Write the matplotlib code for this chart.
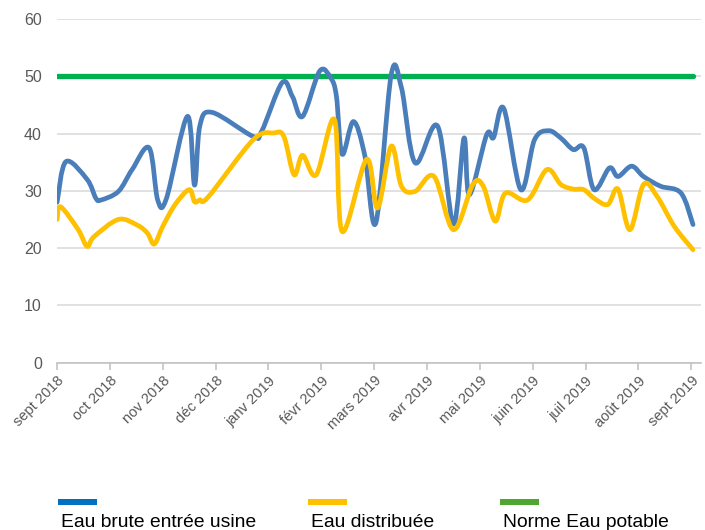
import calendar
import numpy as np
import matplotlib
matplotlib.use("Agg")
import matplotlib.pyplot as plt
from matplotlib.path import Path
from matplotlib.patches import PathPatch, Rectangle

# axe des mois
mois = ["sept 2018", "oct 2018", "nov 2018", "déc 2018", "janv 2019", "févr 2019",
        "mars 2019", "avr 2019", "mai 2019", "juin 2019", "juil 2019", "août 2019",
        "sept 2019"]

# Eau brute entrée usine
dates_brute = ["2018-09-01", "2018-09-06", "2018-09-18", "2018-09-23", "2018-09-26",
               "2018-10-06", "2018-10-14", "2018-10-24", "2018-10-29",
               "2018-11-03", "2018-11-15", "2018-11-19",
               "2018-11-22", "2018-11-29", "2018-12-23", "2018-12-28", "2019-01-09",
               "2019-01-15", "2019-01-21", "2019-01-31", "2019-02-06", "2019-02-09",
               "2019-02-12", "2019-02-18", "2019-02-24", "2019-03-02", "2019-03-11",
               "2019-03-17", "2019-03-25", "2019-04-07", "2019-04-16", "2019-04-22",
               "2019-04-25", "2019-05-05", "2019-05-09", "2019-05-15", "2019-05-25",
               "2019-06-02", "2019-06-10", "2019-06-17", "2019-06-24", "2019-06-30",
               "2019-07-06", "2019-07-15", "2019-07-20", "2019-07-28", "2019-08-04",
               "2019-08-14", "2019-08-26", "2019-09-02"]
brute = [28.0, 35.1, 32.0, 28.7, 28.4,
         29.9, 33.7, 37.5, 28.4,
         28.6, 43.0, 31.0,
         41.3, 43.7, 39.5, 40.4, 48.9,
         46.5, 43.0, 50.9, 49.7, 46.5,
         36.4, 42.1, 36.2, 24.4, 50.3,
         48.0, 34.9, 41.3, 24.2, 39.2,
         29.3, 39.8, 39.3, 44.4, 30.2,
         38.9, 40.5, 39.2, 37.2, 37.5,
         30.2, 34.0, 32.5, 34.3, 32.5,
         30.8, 29.6, 24.1]

# Eau distribuée
dates_distrib = ["2018-09-01", "2018-09-03", "2018-09-13", "2018-09-18", "2018-09-22",
                 "2018-10-06", "2018-10-17", "2018-10-23", "2018-10-27", "2018-11-01",
                 "2018-11-08", "2018-11-16", "2018-11-19", "2018-11-22",
                 "2018-11-27", "2018-12-23", "2019-01-04", "2019-01-10", "2019-01-16",
                 "2019-01-21", "2019-01-29", "2019-02-08", "2019-02-12", "2019-02-25",
                 "2019-03-03", "2019-03-11", "2019-03-17", "2019-03-25", "2019-04-05",
                 "2019-04-16", "2019-04-27", "2019-05-03", "2019-05-10", "2019-05-16",
                 "2019-05-29", "2019-06-09", "2019-06-17", "2019-06-24", "2019-06-30",
                 "2019-07-06", "2019-07-14", "2019-07-20", "2019-07-27", "2019-08-04",
                 "2019-08-12", "2019-08-22", "2019-09-02"]
distrib = [25.0, 27.2, 23.2, 20.3, 22.0,
           25.0, 24.0, 22.6, 20.7, 23.8,
           27.6, 30.2, 28.1, 28.4,
           29.0, 38.9, 40.1, 39.5, 32.8,
           36.2, 32.8, 42.4, 22.9, 35.5,
           27.0, 37.8, 30.8, 29.9, 32.5,
           23.2, 31.1, 30.8, 24.7, 29.6,
           28.4, 33.7, 31.1, 30.3, 30.2,
           28.7, 27.6, 30.3, 23.2, 31.1,
           29.0, 23.8, 19.7]

# Norme Eau potable
norme = 50

noms = ["Eau brute entrée usine", "Eau distribuée", "Norme Eau potable"]


def position(d):
    # date -> position en mois depuis sept 2018
    a, m, j = map(int, d.split("-"))
    return (a - 2018) * 12 + m - 9 + (j - 1) / calendar.monthrange(a, m)[1]


def courbe_lissee(ax, xs, ys, **kw):
    # courbe lissée façon Excel (Catmull-Rom -> Bézier)
    pts = np.column_stack([xs, ys])
    n = len(pts)
    verts = [pts[0]]
    codes = [Path.MOVETO]
    for i in range(n - 1):
        p0 = pts[max(i - 1, 0)]
        p1 = pts[i]
        p2 = pts[i + 1]
        p3 = pts[min(i + 2, n - 1)]
        verts += [p1 + (p2 - p0) / 6, p2 - (p3 - p1) / 6, p2]
        codes += [Path.CURVE4] * 3
    ax.add_patch(PathPatch(Path(verts, codes), fill=False, **kw))


plt.rcParams["font.family"] = ["Liberation Sans", "DejaVu Sans"]

fig = plt.figure(figsize=(7.05, 5.3), dpi=100)
ax = fig.add_axes([0.081, 0.316, 0.913, 0.648])

x_brute = [position(d) for d in dates_brute]
x_distrib = [position(d) for d in dates_distrib]

ax.plot([x_brute[0], x_brute[-1]], [norme, norme], color="#00B050", lw=3.8,
        solid_capstyle="round", zorder=3)
courbe_lissee(ax, x_brute, brute, edgecolor="#4A7EBB", lw=3.4,
              capstyle="round", joinstyle="round", zorder=4)
courbe_lissee(ax, x_distrib, distrib, edgecolor="#FFC000", lw=3.4,
              capstyle="round", joinstyle="round", zorder=5)

ax.set_xlim(0, 12.18)
ax.set_ylim(0, 60)
ax.set_yticks(range(0, 61, 10))
ax.grid(axis="y", color="#D9D9D9", lw=1.1)
ax.set_axisbelow(True)
for s in ["top", "right", "left"]:
    ax.spines[s].set_visible(False)
ax.spines["bottom"].set_color("#BFBFBF")
ax.spines["bottom"].set_linewidth(1.1)

ax.set_xticks(range(len(mois)))
ax.set_xticklabels(mois, rotation=45, ha="right", rotation_mode="anchor")
ax.tick_params(axis="x", colors="#BFBFBF", length=5, width=1.1, pad=3,
               labelcolor="#595959", labelsize=10.5)
ax.tick_params(axis="y", length=0, pad=11, labelcolor="#595959", labelsize=11.5)

# légende en bas
couleurs_leg = ["#0070C0", "#FFC000", "#4EA72E"]
x_leg = [58, 308, 500]
for nom, c, x0 in zip(noms, couleurs_leg, x_leg):
    fig.add_artist(Rectangle((x0 / 705, 1 - 505 / 530), 39 / 705, 6 / 530,
                             transform=fig.transFigure, color=c, lw=0))
    fig.text((x0 + 3) / 705, 1 - 527 / 530, nom, fontsize=13.9, color="black",
             va="baseline", ha="left")

fig.savefig("out.png", dpi=100)
